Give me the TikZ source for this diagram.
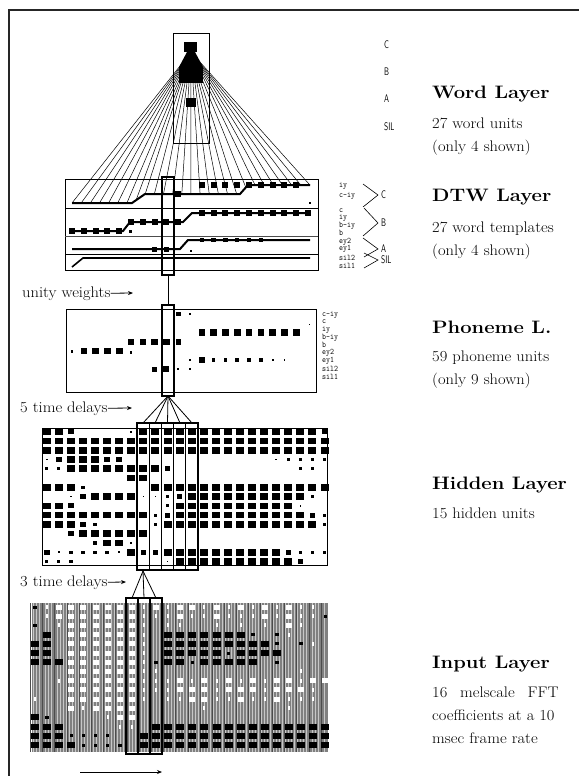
\documentclass[tikz,border=0pt]{standalone}
\usetikzlibrary{arrows.meta}
\newcommand\mytag[1]{\scalebox{0.8}[0.9]{\fontsize{9.5}{9.5}\selectfont\ttfamily #1}}
\newcommand\mysf[1]{\scalebox{0.7}[1]{\fontsize{11}{11}\selectfont\sffamily #1}}
\newcommand\myhead[1]{\scalebox{1.12}[1]{\fontsize{18}{20}\selectfont\bfseries #1}}
\newcommand\mysub[1]{\scalebox{1.08}[1]{#1}}
\begin{document}
\begin{tikzpicture}[x=1pt,y=-1pt,
  unitbox/.style={draw=black,line width=0.9pt},
  colbox/.style={draw=black,line width=1.2pt},
  fanline/.style={line width=0.5pt},
  tpath/.style={line width=2pt},
  heading/.style={anchor=base west,inner sep=0pt},
  subtxt/.style={anchor=base west,inner sep=0pt,font=\fontsize{15.3}{18}\selectfont},
  tagtxt/.style={anchor=west,inner sep=0pt},
  arr/.style={-{Stealth[length=5pt,width=4pt]},line width=0.8pt}
]
\useasboundingbox (0,0) rectangle (579,776);
\fill[white] (0,0) rectangle (579,776);
% outer frame
\draw[line width=2pt,black!85] (9,776) -- (9,10) -- (579,10);

% ================= WORD LAYER =================
\draw[unitbox] (173,33) rectangle (209,143);
\fill (184,42) rectangle (197,52);
\fill (187,52) -- (195,52) -- (203,67) -- (179,67) -- cycle;
\fill (179,67) rectangle (203,83);
\fill (186,98) rectangle (196,107);
\node[tagtxt] (lC) at (384,45) {\mysf{C}};
\node[tagtxt] (lB) at (384,72) {\mysf{B}};
\node[tagtxt] (lA) at (384,99) {\mysf{A}};
\node[tagtxt] (lS) at (384,127) {\mysf{SIL}};

% ================= DTW LAYER =================
\draw[unitbox] (65,179) rectangle (318,270);
\draw[line width=0.7pt] (65,208) -- (318,208);
\draw[line width=0.7pt,black!70] (65,236) -- (318,236);
\draw[line width=0.7pt] (65,254) -- (318,254);
% fan from word unit to template C
\coordinate (apex) at (191,52);
\foreach \i in {0,...,26} {
  \pgfmathsetmacro\fx{72+\i*9.15}
  \pgfmathsetmacro\fy{\fx<=132 ? 203 : (\fx<=145 ? 203-(\fx-132)*9/13 : (\fx<=240 ? 194 : (\fx<=248 ? 194-(\fx-240)*9/8 : 185)))}
  \coordinate (f\i) at (\fx,\fy);
  \draw[fanline] (apex) -- (f\i);
}
% template paths
\draw[tpath] (72,203) -- (132,203) -- (145,194) -- (240,194) -- (248,185) -- (310,185);
\draw[tpath] (72,231) -- (123,231) -- (130,222) -- (183,222) -- (192,213) -- (310,213);
\draw[tpath] (72,249) -- (180,249) -- (188,240) -- (310,240);
\draw[line width=1.6pt] (72,267) -- (83,258) -- (310,258);
% template squares
\foreach \c in {11,...,19} {\pgfmathsetmacro\xx{72+11.8*\c}\fill (\xx-3,182) rectangle +(6,6);}
\fill (178-3,191) rectangle +(6,6);
\fill (309,202) rectangle +(1.5,1.5);
\foreach \c in {0,...,4} {\pgfmathsetmacro\xx{72+11.8*\c}\fill (\xx-3,228) rectangle +(6,6);}
\foreach \c in {5,...,9} {\pgfmathsetmacro\xx{72+11.8*\c}\fill (\xx-3,219) rectangle +(6,6);}
\foreach \c in {11,...,20} {\pgfmathsetmacro\xx{72+11.8*\c}\fill (\xx-3,210) rectangle +(6,6);}
\fill (129,230) rectangle +(2.5,2.5);
\foreach \c in {7,8} {\pgfmathsetmacro\xx{72+11.8*\c}\fill (\xx-2.5,246.5) rectangle +(5,5);}
\foreach \c in {11,...,16} {\pgfmathsetmacro\xx{72+11.8*\c}\fill (\xx-2.2,237.8) rectangle +(4.4,4.4);}
\fill (190,249.5) rectangle +(2,2);
% DTW tags
\node[tagtxt] at (339,186) {\mytag{iy}};
\node[tagtxt] at (339,196) {\mytag{c-iy}};
\node[tagtxt] at (339,211) {\mytag{c}};
\node[tagtxt] at (339,218) {\mytag{iy}};
\node[tagtxt] at (339,226) {\mytag{b-iy}};
\node[tagtxt] at (339,233) {\mytag{b}};
\node[tagtxt] at (339,242) {\mytag{ey2}};
\node[tagtxt] at (339,249) {\mytag{ey1}};
\node[tagtxt] at (339,258) {\mytag{sil2}};
\node[tagtxt] at (339,266) {\mytag{sil1}};
\draw[line width=0.6pt] (363,184) -- (378,195) -- (363,207);
\draw[line width=0.6pt] (364,208) -- (378,223) -- (363,236);
\draw[line width=0.6pt] (363,238) -- (378,249) -- (364,257);
\draw[line width=0.6pt] (364,253) -- (378,260) -- (364,268);
\node[tagtxt] (tC) at (381,195) {\mysf{C}};
\node[tagtxt] (tB) at (381,223) {\mysf{B}};
\node[tagtxt] (tA) at (381,249) {\mysf{A}};
\node[tagtxt] (tS) at (381,260) {\mysf{SIL}};

% column through DTW
\draw[colbox] (162,177) rectangle (174,275);
\coordinate (dtwbot) at (168,275);
\coordinate (phtop) at (168,305);
\draw[line width=1pt] (dtwbot) -- (phtop);

% ================= PHONEME LAYER =================
\draw[unitbox] (66,309) rectangle (316,392);
\draw[colbox] (162,305) rectangle (174,396);
\coordinate (phbot) at (168,396);
% units
\def\px#1{72+11.8*#1}
\fill (\px{9}-2.3,311.7) rectangle +(4.6,4.6);
\fill (\px{10}-0.9,313.1) rectangle +(1.8,1.8);
\fill (308.5,323.5) rectangle +(1.2,1.2);
\foreach \c in {11,...,19} {\pgfmathsetmacro\xx{\px{\c}}\fill (\xx-3.3,329) rectangle +(6.6,6.6);}
\foreach \c in {5,...,8} {\pgfmathsetmacro\xx{\px{\c}}\fill (\xx-3.3,338.7) rectangle +(6.6,6.6);}
\fill (\px{9}-2.7,339.3) rectangle +(5.4,5.4);
\fill (\px{0}-1.3,350) rectangle +(2.6,2.6);
\foreach \c in {1,...,4} {\pgfmathsetmacro\xx{\px{\c}}\fill (\xx-3.3,347.7) rectangle +(6.6,6.6);}
\fill (\px{5}-1.3,351) rectangle +(2.6,2.6);
\fill (\px{10}-1,359) rectangle +(2,2);
\fill (\px{11}-2.8,357.2) rectangle +(5.6,5.6);
\foreach \c in {12,...,16} {\pgfmathsetmacro\xx{\px{\c}}\fill (\xx-1.8,358.2) rectangle +(3.6,3.6);}
\foreach \c in {17,18} {\pgfmathsetmacro\xx{\px{\c}}\fill (\xx-0.9,359.1) rectangle +(1.8,1.8);}
\fill (\px{7}-2.5,366.5) rectangle +(5,5);
\fill (\px{8}-3,366) rectangle +(6,6);
\foreach \c in {9,10} {\pgfmathsetmacro\xx{\px{\c}}\fill (\xx-1,368) rectangle +(2,2);}
% phoneme tags
\node[tagtxt] at (322,315) {\mytag{c-iy}};
\node[tagtxt] at (322,322) {\mytag{c}};
\node[tagtxt] at (322,330) {\mytag{iy}};
\node[tagtxt] at (322,338) {\mytag{b-iy}};
\node[tagtxt] at (322,345) {\mytag{b}};
\node[tagtxt] at (322,353) {\mytag{ey2}};
\node[tagtxt] at (322,361) {\mytag{ey1}};
\node[tagtxt] at (322,369) {\mytag{sil2}};
\node[tagtxt] at (322,377) {\mytag{sil1}};

% ================= HIDDEN LAYER =================
\draw[unitbox] (42,428) rectangle (327,565);
\foreach \row [count=\r from 0] in {
 {4,4,3,0,0,0,0,1,4,4,4,4,4,4,4,4,4,4,4,4,4,4,4,3},
 {4,4,4,4,4,4,4,4,4,4,4,4,4,4,4,4,4,4,4,4,4,4,4,4},
 {4,4,4,4,4,4,4,4,4,4,4,4,4,4,4,4,4,4,4,4,4,4,4,4},
 {1,3,4,4,4,3,3,0,0,0,0,0,0,0,0,0,0,0,0,1,2,2,2,2},
 {2,2,4,4,4,4,4,4,4,4,3,0,0,0,0,0,0,0,0,0,0,2,2,0},
 {0,0,0,0,0,0,0,4,4,0,0,0,0,0,0,0,0,0,0,0,0,0,0,0},
 {4,4,4,2,0,0,0,0,0,4,4,4,4,4,4,4,4,4,4,4,4,4,4,4},
 {0,0,1,3,4,4,4,4,1,1,2,3,4,4,4,4,4,4,4,4,4,4,2,0},
 {4,4,3,0,0,0,0,0,0,0,2,4,4,4,4,4,4,4,4,4,4,1,0,0},
 {4,4,4,4,4,4,4,4,4,2,3,4,4,4,4,4,4,4,4,4,4,4,3,2},
 {4,4,4,3,2,0,0,0,0,2,4,4,4,4,4,4,4,4,4,4,4,4,4,2},
 {0,0,3,4,4,4,4,4,4,0,0,0,0,0,0,0,0,0,0,0,0,0,0,0},
 {0,0,0,0,2,4,4,1,0,0,0,0,0,0,0,0,0,0,0,0,0,0,0,0},
 {3,1,2,2,2,2,1,4,3,3,4,4,4,4,4,4,4,4,4,4,3,2,2,2},
 {2,2,2,0,0,0,0,0,0,0,1,4,4,4,4,4,4,4,4,4,4,3,0,0}} {
  \foreach \v [count=\c from 0] in \row {
    \ifnum\v>0
      \pgfmathsetmacro\ww{{0,1.6,3.4,5.6,8.0}[\v]}
      \pgfmathsetmacro\hh{{0,1.6,3.2,5.0,6.6}[\v]}
      \pgfmathsetmacro\xx{46.7+12.08*\c-\ww/2}
      \pgfmathsetmacro\yy{431.7+9.27*\r-\hh/2}
      \fill (\xx,\yy) rectangle +(\ww,\hh);
    \fi
  }
}
% phoneme -> hidden fan
\foreach \k/\hx in {0/143,1/155,2/167.5,3/180,4/192} {
  \coordinate (h\k) at (\hx,423);
  \draw[line width=0.8pt] (phbot) -- (h\k);
}
\draw[colbox] (137,423) rectangle (198,570);
\foreach \dx in {149.2,161.4,173.6,185.8} \draw[colbox] (\dx,423) -- (\dx,570);

% ================= INPUT LAYER =================
\fill[black!50] (32,603) rectangle (328,752);
\foreach \lx in {33.5,36.5,...,327} \draw[black!22,line width=0.4pt] (\lx,603) -- (\lx,752);
\foreach \lx in {35,47.1,...,327} \draw[black!70,line width=0.5pt] (\lx-4.5,603) -- (\lx-4.5,752);
\foreach \col [count=\c from 0] in {
 {-1,0,-1,0,-2,-2,-2,0,0,0,1,0,-2,-2,-2,-2},
 {1,1,0,-2,-2,-2,-2,0,0,0,0,0,-1,-2,-2,-2},
 {2,2,1,0,0,0,-2,0,1,0,0,0,0,-2,-2,-2},
 {2,2,2,2,2,2,2,2,2,2,2,2,0,0,-1,-2},
 {2,2,2,2,2,2,2,2,2,2,2,1,0,0,-1,-1},
 {2,2,2,2,2,2,2,2,2,2,2,2,0,0,-1,-1},
 {2,2,2,2,2,2,2,2,2,2,2,2,1,0,-1,-1},
 {2,2,2,2,2,2,2,2,2,2,2,2,2,1,0,-1},
 {2,2,2,2,2,2,2,2,2,2,2,2,2,1,0,0},
 {1,1,1,1,1,1,1,1,1,1,1,0,0,0,-2,-2},
 {2,1,0,0,0,0,-1,1,1,1,0,0,0,-2,-2,-2},
 {1,1,1,-2,-2,-2,-2,0,1,1,1,0,0,-2,-2,-2},
 {2,2,1,-2,-2,-2,-2,0,2,2,1,0,0,-2,-2,-2},
 {2,1,0,-2,-2,-2,-1,0,1,2,2,0,0,-2,-2,-2},
 {1,1,0,-2,-2,-2,-2,0,2,2,2,1,0,-2,-2,-2},
 {2,2,1,-2,-2,-2,-2,0,1,1,1,0,0,-2,-2,-2},
 {1,1,0,-2,-2,-1,-2,0,2,2,1,0,0,-2,-2,-2},
 {2,1,1,-2,-2,-2,-2,0,1,2,2,0,0,-2,-2,-2},
 {1,1,0,-1,-2,-2,-2,0,2,2,1,0,0,-2,-2,-2},
 {2,2,1,0,-2,-2,0,0,1,1,1,0,0,-2,-2,-2},
 {1,1,0,-1,-1,-2,-1,0,2,2,2,0,0,-2,-2,-2},
 {2,2,2,1,0,0,0,0,2,2,1,1,0,-2,-2,-2},
 {1,1,1,0,-1,0,0,1,1,2,1,0,0,-2,-2,-2},
 {1,1,0,0,1,0,0,0,2,1,1,0,0,-2,-2,-2},
 {0,-1,0,0,0,0,0,0,2,0,0,0,0,-2,-2,-2}} {
  \foreach \v [count=\r from 0] in \col {
    \pgfmathsetmacro\xx{35+12.1*\c}
    \pgfmathsetmacro\yy{607+9.2*\r}
    \ifnum\v=2  \fill[white] (\xx-3,\yy-2.5) rectangle +(6,5); \fi
    \ifnum\v=1  \fill[white] (\xx-1,\yy-2) rectangle +(2,4); \fi
    \ifnum\v=-1 \fill[black] (\xx-1.8,\yy-1.5) rectangle +(3.6,3); \fi
    \ifnum\v=-2 \fill[black] (\xx-4,\yy-3) rectangle +(8,6); \fi
  }
}
% hidden -> input fan
\coordinate (iapex) at (143,571);
\foreach \k/\ix in {0/132,1/144,2/156} {
  \coordinate (i\k) at (\ix,598);
  \draw[line width=0.8pt] (iapex) -- (i\k);
}
\draw[line width=1.4pt] (126,598) rectangle (162,754);
\draw[line width=1.4pt] (138,598) -- (138,754);
\draw[line width=1.4pt] (150,598) -- (150,754);

% time arrow
\coordinate (ta1) at (80,772);
\coordinate (ta2) at (162,772);
\draw[arr] (ta1) -- (ta2);

% ================= LEFT LABELS =================
\node[subtxt] (uw) at (22,297) {\mysub{unity weights}};
\coordinate (uwe) at (133,293);
\draw[arr] (uw.east) -- (uwe);
\node[subtxt] (td5) at (20,412) {\mysub{5 time delays}};
\coordinate (td5e) at (132,408);
\draw[arr] (td5.east) -- (td5e);
\node[subtxt] (td3) at (20,586) {\mysub{3 time delays}};
\coordinate (td3e) at (126,582);
\draw[arr] (td3.east) -- (td3e);

% ================= RIGHT TEXT =================
\node[heading] (hword) at (432,99) {\myhead{Word Layer}};
\node[subtxt] at (432,128) {\mysub{27 word units}};
\node[subtxt] at (432,151) {\mysub{(only 4 shown)}};
\node[heading] (hdtw) at (432,201) {\myhead{DTW Layer}};
\node[subtxt] at (432,232) {\mysub{27 word templates}};
\node[subtxt] at (432,255) {\mysub{(only 4 shown)}};
\node[heading] (hph) at (432,333) {\myhead{Phoneme L.}};
\node[subtxt] at (432,361) {\mysub{59 phoneme units}};
\node[subtxt] at (432,384) {\mysub{(only 9 shown)}};
\node[heading] (hhid) at (432,489) {\myhead{Hidden Layer}};
\node[subtxt] at (432,518) {\mysub{15 hidden units}};
\node[heading] (hin) at (432,668) {\myhead{Input Layer}};
\node[subtxt] at (432,697) {\mysub{\makebox[117pt][s]{16 melscale FFT}}};
\node[subtxt] at (432,720) {\mysub{coefficients at a 10}};
\node[subtxt] at (432,743) {\mysub{msec frame rate}};
\end{tikzpicture}
\end{document}
